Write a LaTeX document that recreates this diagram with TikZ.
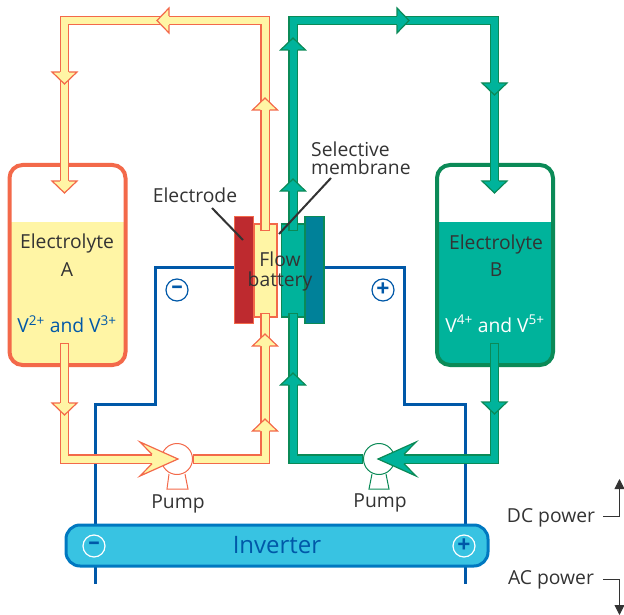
\documentclass[tikz,border=0pt]{standalone}
\usepackage{fontspec}
\setmainfont{Open Sans}
\usetikzlibrary{arrows.meta}
\definecolor{pipeyellow}{HTML}{FFF5A5}
\definecolor{pipeorange}{HTML}{F3694A}
\definecolor{pipeteal}{HTML}{00B39B}
\definecolor{pipegreen}{HTML}{0B8A57}
\definecolor{wireblue}{HTML}{0058A8}
\definecolor{elecred}{HTML}{BE2A2F}
\definecolor{elecblue}{HTML}{008199}
\definecolor{invcyan}{HTML}{38C3E2}
\definecolor{invedge}{HTML}{0078C0}
\definecolor{inktext}{HTML}{333333}

\begin{document}
\begin{tikzpicture}[
    x=1pt,
    y=-1pt,
    font=\fontsize{19.3}{18}\selectfont,
    every node/.style={text=inktext},
    wire/.style={draw=wireblue, line width=3pt, line join=miter},
    pipea/.style={
        draw=pipeorange,
        line width=9.4pt,
        line join=miter,
        postaction={draw=pipeyellow, line width=7pt, shorten >=1.2pt, shorten <=1.2pt}
    },
    pipeb/.style={
        draw=pipegreen,
        line width=9.4pt,
        line join=miter,
        postaction={draw=pipeteal, line width=7pt, shorten >=1.2pt, shorten <=1.2pt}
    },
    heada/.style={draw=pipeorange, fill=pipeyellow, line width=1.2pt, line join=miter},
    headb/.style={draw=pipegreen, fill=pipeteal, line width=1.2pt, line join=miter},
    flowhead/.pic={
        \path[pic actions] (-12,-4.7) -- (-12,-12.5) -- (0,0) -- (-12,12.5) -- (-12,4.7);
    },
    pumphead/.pic={
        \path[pic actions] (-26,-4.7) -- (-38,-17) -- (0,0) -- (-38,17) -- (-26,4.7);
    },
    tank/.style={
        draw,
        line width=4pt,
        rounded corners=13pt,
        minimum width=116pt,
        minimum height=200pt
    },
    electrode/.style={
        draw,
        line width=1.2pt,
        minimum width=19pt,
        minimum height=107pt
    },
    halfcell/.style={
        draw,
        line width=1.2pt,
        minimum width=23pt,
        minimum height=93pt
    },
    pump/.style={
        circle,
        fill=white,
        line width=1pt,
        minimum size=31pt,
        inner sep=0pt
    },
    pumpfoot/.style={line width=1pt, line join=miter},
    sign/.style={
        circle,
        draw=wireblue,
        line width=1.2pt,
        minimum size=22pt,
        inner sep=0pt,
        text=wireblue,
        font=\fontsize{23}{23}\selectfont\bfseries
    },
    leader/.style={draw=inktext, line width=2pt},
    powerarrow/.style={draw=inktext, line width=1pt, -{Triangle[length=10pt,width=10pt]}}
]
\useasboundingbox (0,0) rectangle (624,615);

% Power wires
\coordinate (wireaend) at (95,584);
\coordinate (wirebend) at (465,584);
\draw[wire] (234,267) -- (155,267) -- (155,404) -- (95,404) -- (wireaend);
\draw[wire] (324,267) -- (404,267) -- (404,404) -- (465,404) -- (wirebend);

% Tanks
\fill[pipeyellow] (10,222) -- (125,222) [rounded corners=13pt] -- (125,365) -- (10,365) [sharp corners] -- cycle;
\fill[pipeteal] (437,222) -- (553,222) [rounded corners=13pt] -- (553,365) -- (437,365) [sharp corners] -- cycle;
\node[tank, draw=pipeorange] (tanka) at (67.5,265) {};
\node[tank, draw=pipegreen] (tankb) at (495,265) {};

% Flow battery
\node[halfcell, draw=pipeorange, fill=pipeyellow] (cella) at (265.5,270.5) {};
\node[halfcell, draw=pipegreen, fill=pipeteal] (cellb) at (293,270.5) {};
\node[electrode, draw=pipeorange, fill=elecred] (eleca) at (244,270) {};
\node[electrode, draw=pipegreen, fill=elecblue] (elecb) at (314.5,270) {};

% Pumps
\node[pump, draw=pipeorange] (pumpa) at (177,459) {};
\node[pump, draw=pipegreen] (pumpb) at (379,459) {};
\draw[pumpfoot, draw=pipeorange] (169,474) -- (167,489) -- (188,489) -- (185,474);
\draw[pumpfoot, draw=pipegreen] (372,474) -- (369,489) -- (389,489) -- (386,474);

% Electrolyte A loop
\coordinate (aout) at (265,231);
\coordinate (atopr) at (265,20.5);
\coordinate (atopl) at (64.5,20.5);
\coordinate (ain) at (64.5,185);
\coordinate (adrain) at (64.5,343);
\coordinate (alow) at (64.5,459);
\coordinate (ahead) at (160,459);
\coordinate (abotr) at (265,459);
\coordinate (aback) at (265,313);
\draw[pipea] (aout) -- (atopr) -- (atopl) -- (ain);
\draw[pipea] (adrain) -- (alow) -- (ahead);
\draw[pipea] (pumpa.east) -- (abotr) -- (aback);

% Electrolyte B loop
\coordinate (bout) at (293,231);
\coordinate (btopl) at (293,20.5);
\coordinate (btopr) at (494.5,20.5);
\coordinate (bin) at (494.5,185);
\coordinate (bdrain) at (494.5,343);
\coordinate (blow) at (494.5,459);
\coordinate (bhead) at (396,459);
\coordinate (bbotl) at (293,459);
\coordinate (bback) at (293,313);
\draw[pipeb] (bout) -- (btopl) -- (btopr) -- (bin);
\draw[pipeb] (bdrain) -- (blow) -- (bhead);
\draw[pipeb] (pumpb.west) -- (bbotl) -- (bback);

% Flow arrow heads
\pic[heada, rotate=180] at (157,20.5) {flowhead};
\pic[heada, rotate=-90] at (64.5,84) {flowhead};
\pic[heada, rotate=-90] at (64.5,193) {flowhead};
\pic[heada, rotate=-90] at (64.5,415) {flowhead};
\pic[heada, rotate=90] at (265,98) {flowhead};
\pic[heada, rotate=90] at (265,419) {flowhead};
\pic[heada, rotate=90] at (265,334) {flowhead};
\pic[heada] at (178,459) {pumphead};
\pic[headb] at (409,20.5) {flowhead};
\pic[headb, rotate=-90] at (494.5,95) {flowhead};
\pic[headb, rotate=-90] at (494.5,193) {flowhead};
\pic[headb, rotate=-90] at (494.5,414) {flowhead};
\pic[headb, rotate=90] at (293,38) {flowhead};
\pic[headb, rotate=90] at (293,179) {flowhead};
\pic[headb, rotate=90] at (293,373) {flowhead};
\pic[headb, rotate=180] at (378,459) {pumphead};

% Inverter
\node[draw=invedge, fill=invcyan, line width=3pt, rounded corners=14pt,
    minimum width=422pt, minimum height=41pt, text=wireblue,
    font=\fontsize{24}{24}\selectfont] (inverter) at (277,545.5) {Inverter};
\node[sign, draw=white] (invminus) at (94,546) {–};
\node[sign, draw=white] (invplus) at (464,546) {+};

% Battery polarity
\node[sign, fill=white] (batminus) at (177,290) {–};
\node[sign, fill=white] (batplus) at (383,290) {+};

% Labels
\node (elecalabel) at (67,243) {Electrolyte};
\node (elecanote) at (67,270) {A};
\node[text=wireblue] (vanadiuma) at (67,324) {V\textsuperscript{2+} and V\textsuperscript{3+}};
\node (elecblabel) at (496,244) {Electrolyte};
\node (elecbnote) at (496,270) {B};
\node[text=white] (vanadiumb) at (495,324) {V\textsuperscript{4+} and V\textsuperscript{5+}};
\node (electrodelabel) at (195,195) {Electrode};
\node[align=left, anchor=west, inner sep=0pt] (membranelabel) at (311,158) {Selective\\membrane};
\node[align=center, font=\fontsize{19.3}{20}\selectfont] (flowlabel) at (280,271) {Flow\\battery};
\node (pumpalabel) at (178,504) {Pump};
\node (pumpblabel) at (380,503) {Pump};
\node (dclabel) at (551,518) {DC power};
\node (aclabel) at (551,580) {AC power};

% Leaders
\coordinate (electrodeend) at (243,240);
\coordinate (membraneend) at (279,234);
\draw[leader] (212,208) -- (electrodeend);
\draw[leader] (331,178) -- (membraneend);

% Power direction
\coordinate (dcstart) at (603,516);
\coordinate (dctip) at (619.5,479);
\coordinate (acstart) at (603,579);
\coordinate (actip) at (619.5,615);
\draw[powerarrow] (dcstart) -| (dctip);
\draw[powerarrow] (acstart) -| (actip);

\end{tikzpicture}
\end{document}
